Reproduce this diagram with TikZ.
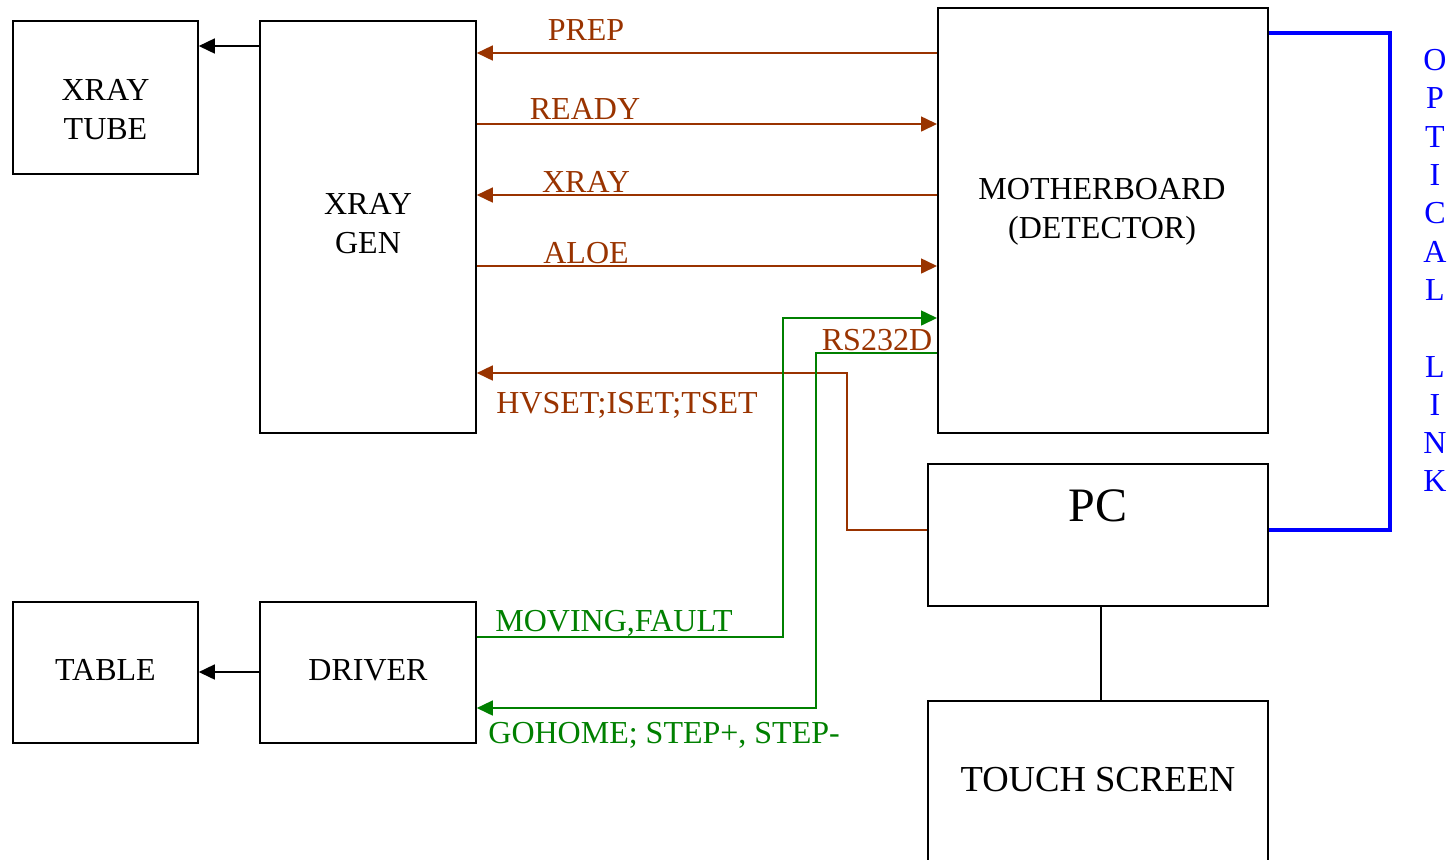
\documentclass[tikz,border=0pt]{standalone}
\usepackage{fontspec}
\setmainfont{Liberation Serif}
\usepackage{xcolor}
\definecolor{brn}{HTML}{993300}
\definecolor{grn}{HTML}{008000}
\definecolor{blu}{HTML}{0000FF}
\usepackage{tikz}
\usetikzlibrary{arrows.meta,positioning}
\tikzset{
  >=Triangle,
  blk/.style={draw=black,line width=0.9pt,inner sep=0pt,anchor=north west},
  txt/.style={font=\fontsize{16}{19.5}\selectfont,align=center,inner sep=0pt},
  bigtxt/.style={txt,font=\fontsize{24}{28}\selectfont},
  tstxt/.style={txt,font=\fontsize{18.3}{22}\selectfont},
  wire/.style={-{Triangle[length=8pt,width=7.5pt]},line width=0.8pt,draw=black},
  sig/.style={wire,draw=brn},
  ctl/.style={wire,draw=grn},
  olink/.style={line width=2pt,draw=blu},
  lbl/.style={font=\fontsize{16}{19.5}\selectfont,text=brn,inner sep=0pt,anchor=base},
  glbl/.style={lbl,text=grn,anchor=base west},
}
\begin{document}
\begin{tikzpicture}[x=0.5pt,y=-0.5pt]
  \clip (0,0) rectangle (1456,859);
  % ---- boxes ----
  \node[blk,minimum width=92.5pt,minimum height=76.5pt] (tube) at (12,20) {};
  \node[blk,minimum width=108pt,minimum height=206pt] (gen) at (259,20) {};
  \node[blk,minimum width=165pt,minimum height=212.5pt] (mb) at (937,7) {};
  \node[blk,minimum width=170pt,minimum height=71pt] (pc) at (927,463) {};
  \node[blk,minimum width=170pt,minimum height=110pt] (ts) at (927,700) {};
  \node[blk,minimum width=92.5pt,minimum height=70.5pt] (table) at (12,601) {};
  \node[blk,minimum width=108pt,minimum height=70.5pt] (drv) at (259,601) {};

  \node[txt] (tubetxt) at (105.5,110) {XRAY\\TUBE};
  \node[txt] (gentxt) at (368,224) {XRAY\\GEN};
  \node[txt] (mbtxt) at (1102,212) {MOTHERBOARD\\(DETECTOR)};
  \node[bigtxt] (pctxt) at (1098,506) {PC};
  \node[tstxt] (tstxt) at (1098,780) {TOUCH SCREEN};
  \node[txt] (tabletxt) at (105.5,670) {TABLE};
  \node[txt] (drvtxt) at (368,670) {DRIVER};

  % ---- generator signals ----
  \draw[wire] (gen.west |- 0,46) -- (tube.east |- 0,46);
  \draw[wire] (drv.west |- 0,672) -- (table.east |- 0,672);
  \draw[sig] (mb.west |- 0,53) -- (gen.east |- 0,53);
  \draw[sig] (gen.east |- 0,124) -- (mb.west |- 0,124);
  \draw[sig] (mb.west |- 0,195) -- (gen.east |- 0,195);
  \draw[sig] (gen.east |- 0,266) -- (mb.west |- 0,266);
  \draw[sig] (pc.west |- 0,530) -| (847,373) -- (gen.east |- 0,373);
  \node[lbl] (prep) at (586,40) {PREP};
  \node[lbl] (ready) at (585,119) {READY};
  \node[lbl] (xray) at (586,192) {XRAY};
  \node[lbl] (aloe) at (586,263) {ALOE};
  \node[lbl] (rs) at (877,350) {RS232D};
  \node[lbl] (hvset) at (627,413) {HVSET;ISET;TSET};

  % ---- driver signals ----
  \draw[ctl] (drv.east |- 0,637) -| (783,318) -- (mb.west |- 0,318);
  \draw[ctl] (mb.west |- 0,353) -| (816,708) -- (drv.east |- 0,708);
  \node[glbl] (moving) at (495,631) {MOVING,FAULT};
  \node[glbl] (gohome) at (488,743) {GOHOME; STEP+, STEP-};

  % ---- pc ----
  \draw[line width=0.9pt] ([xshift=1.5pt]pc.south) -- ([xshift=1.5pt]ts.north);
  \draw[olink] (mb.east |- 0,33) -| (1390,530) -- (pc.east |- 0,530);
  \node[txt,text=blu,anchor=north,font=\fontsize{16}{19.15}\selectfont] (optic) at (1435,49)
    {O\\P\\T\\I\\C\\A\\L\\\mbox{}\\L\\I\\N\\K};
\end{tikzpicture}
\end{document}
